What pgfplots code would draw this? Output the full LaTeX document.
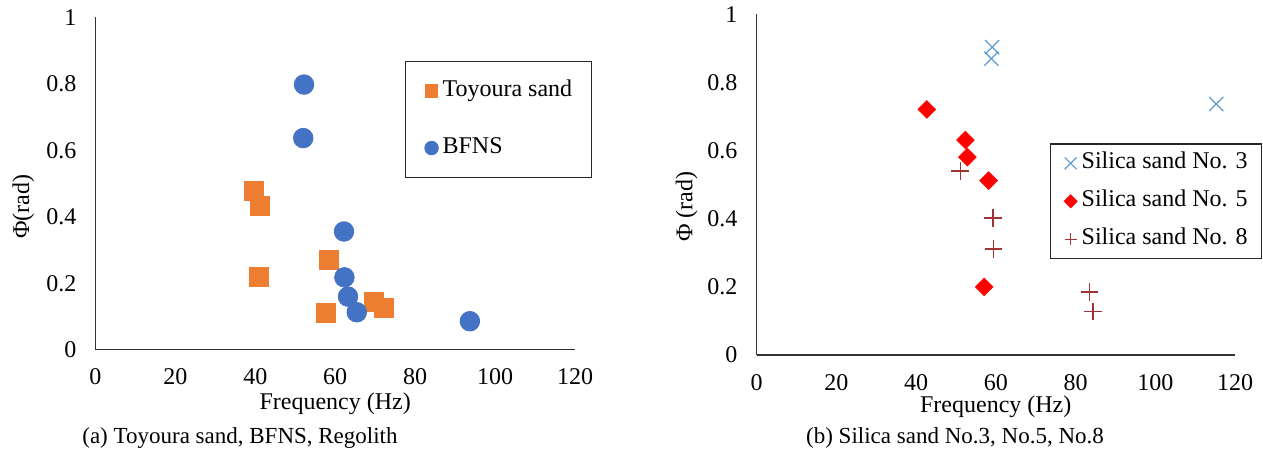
\documentclass[border=0pt]{standalone}
\usepackage{pgfplots}
\pgfplotsset{compat=1.18}
\usepackage{fontspec}
\setmainfont{Liberation Serif}
\definecolor{torange}{HTML}{ED7D31}
\definecolor{tblue}{HTML}{4472C4}
\definecolor{sblue}{HTML}{5B9BD5}
\definecolor{sred}{HTML}{FF0000}
\definecolor{sbrown}{RGB}{158,52,52}
\newcommand{\twelve}{\fontsize{12}{14}\selectfont}
\pgfplotsset{
  common/.style={
    anchor=south west, scale only axis,
    xmin=0, xmax=120, ymin=0, ymax=1,
    axis lines=left,
    axis line style={-, draw=black!80, line width=0.55pt},
    major tick length=0pt, tick style={draw=none},
    xtick={0,20,...,120}, ytick={0,0.2,0.4,0.6,0.8,1},
    /pgf/number format/assume math mode=true,
    tick label style={font=\twelve},
    yticklabel style={xshift=-6pt},
    xticklabel style={yshift=-6pt},
    label style={font=\twelve},
    xlabel={Frequency (Hz)},
    clip=false,
    legend cell align=left,
  },
}
\begin{document}
\begin{tikzpicture}
\path[use as bounding box] (0,0) rectangle (631.5pt,231.5pt);
\begin{axis}[common,
  at={(47.7pt,56.6pt)}, width=239.8pt, height=166.2pt,
  xlabel style={at={(axis description cs:0.5,0)}, anchor=center, yshift=-27pt},
  ylabel={Φ(rad)},
  ylabel style={at={(axis description cs:0,0.43)}, anchor=center, yshift=36pt},
  legend style={at={(0.6455,0.869)}, anchor=north west, draw=black!85, line width=0.6pt,
    inner xsep=9.5pt, inner ysep=9.5pt, row sep=18pt, font=\twelve,
    nodes={inner sep=0pt, text height=8pt, text depth=2.5pt}},
  legend image code/.code={\path[draw=none] (-3.5pt,0pt) -- (5.5pt,0pt);\draw[#1] plot coordinates {(0pt,0pt)};},
]
\addplot[only marks, mark=square*, mark size=4.75pt, color=torange, mark options={draw=torange, fill=torange},
  legend image post style={mark size=3.1pt}]
  coordinates {(39.7,0.477) (41.2,0.434) (41.0,0.218) (58.5,0.269) (57.7,0.110) (69.8,0.145) (72.1,0.126)};
\addlegendentry{Toyoura sand}
\addplot[only marks, mark=*, mark size=4.9pt, color=tblue, mark options={draw=tblue, fill=tblue},
  legend image post style={mark size=3.3pt}]
  coordinates {(52.2,0.798) (52.0,0.637) (62.2,0.356) (62.3,0.218) (63.2,0.160) (65.4,0.113) (93.7,0.086)};
\addlegendentry{BFNS}
\end{axis}
\begin{axis}[common,
  at={(378.25pt,54pt)}, width=239.25pt, height=170.3pt,
  xlabel style={at={(axis description cs:0.5,0)}, anchor=center, yshift=-26pt},
  ylabel={Φ (rad)},
  ylabel style={at={(axis description cs:0,0.436)}, anchor=center, yshift=35pt},
  legend style={at={(0.613,0.621)}, anchor=north west, draw=black!85, line width=0.6pt,
    inner xsep=7pt, inner ysep=4.35pt, row sep=8.5pt, font=\twelve,
    nodes={inner sep=0pt, text height=8pt, text depth=2.5pt}},
  legend image code/.code={\path[draw=none] (-3pt,0pt) -- (5.5pt,0pt);\draw[#1] plot coordinates {(0pt,0pt)};},
]
\addplot[only marks, mark=x, mark size=5pt, color=sblue, mark options={line width=0.6pt},
  legend image post style={mark size=4.2pt}]
  coordinates {(59.1,0.904) (58.9,0.870) (115.3,0.737)};
\addlegendentry{Silica sand No. 3}
\addplot[only marks, mark=square*, mark size=3.1pt, color=sred, mark options={draw=sred, fill=sred, rotate=45},
  legend image post style={mark size=2.2pt}]
  coordinates {(42.7,0.721) (52.4,0.631) (52.9,0.581) (58.2,0.512) (57.1,0.200)};
\addlegendentry{Silica sand No. 5}
\addplot[only marks, mark=+, mark size=4.4pt, color=sbrown, mark options={line width=0.75pt},
  legend image post style={mark size=3pt}]
  coordinates {(51.1,0.540) (59.3,0.402) (59.4,0.311) (83.5,0.185) (84.4,0.128)};
\addlegendentry{Silica sand No. 8}
\end{axis}
\node[font=\fontsize{11.5}{13}\selectfont] at (120pt,12.5pt) {(a) Toyoura sand, BFNS, Regolith};
\node[font=\fontsize{11.5}{13}\selectfont] at (477.5pt,12.5pt) {(b) Silica sand No.3, No.5, No.8};
\end{tikzpicture}
\end{document}
